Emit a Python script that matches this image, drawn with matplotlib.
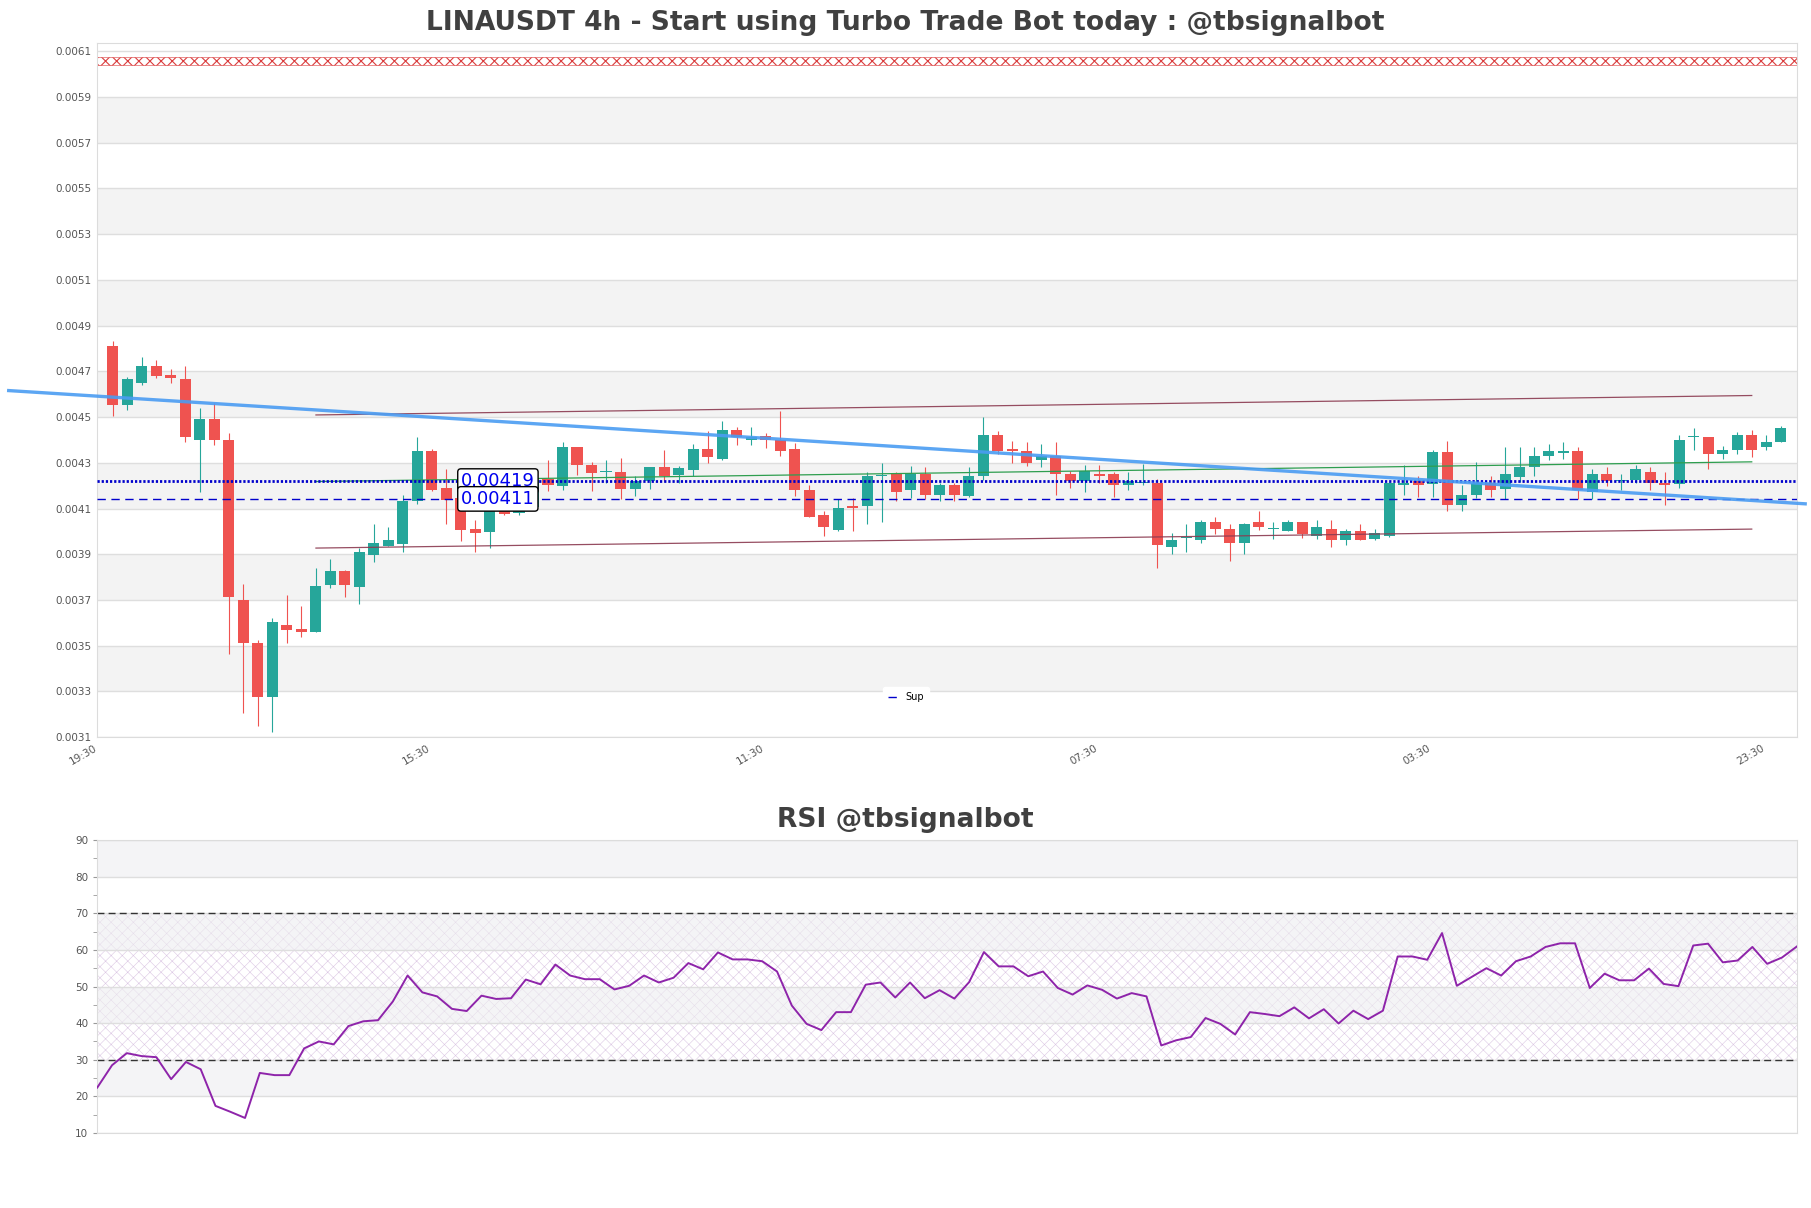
import numpy as np
import matplotlib
matplotlib.use('Agg')
import matplotlib.pyplot as plt

# ---------------- data ----------------
# prices are in units of 1e-5 USDT (481.2 -> 0.004812)
SCALE = 1e-5

opens = [481.2, 455.1, 464.8, 472.1, 468.3, 466.4, 439.8, 449.3, 440.1, 370.1,
         351.4, 327.8, 359.1, 357.2, 355.8, 376.6, 382.5, 375.9, 389.8, 393.7,
         394.6, 413.1, 435.3, 418.9, 414.6, 401.1, 399.9, 410.6, 408.0, 410.5,
         423.0, 420.0, 437.0, 429.2, 426.0, 426.1, 418.7, 421.9, 428.3, 424.8,
         427.0, 436.2, 431.8, 444.2, 440.1, 441.6, 440.1, 436.2, 418.2, 407.3,
         400.7, 411.2, 410.9, 424.1, 425.1, 417.9, 425.1, 415.8, 420.3, 415.6,
         424.1, 442.3, 436.2, 435.3, 431.1, 433.1, 425.2, 421.9, 425.1, 425.1,
         420.1, 421.1, 421.1, 393.0, 397.0, 396.1, 404.1, 401.0, 394.9, 404.1,
         401.1, 400.0, 404.1, 397.8, 401.2, 396.1, 400.0, 396.8, 397.8, 420.1,
         422.2, 420.8, 434.6, 411.7, 415.8, 421.1, 418.7, 423.9, 428.0, 432.8,
         434.1, 435.3, 417.1, 425.1, 422.0, 422.6, 426.1, 421.1, 420.9, 441.1,
         441.4, 434.0, 435.7, 442.3, 436.8, 439.0]
highs = [483.4, 467.4, 476.4, 475.1, 471.2, 472.1, 454.0, 456.2, 443.0, 376.9,
         352.6, 362.3, 372.3, 367.4, 384.2, 388.0, 383.2, 392.7, 403.3, 401.9,
         416.0, 441.3, 436.2, 427.4, 414.6, 405.1, 417.0, 412.0, 411.5, 423.5,
         431.4, 439.2, 437.0, 430.2, 431.4, 432.2, 424.4, 428.3, 435.4, 428.4,
         438.4, 444.0, 448.3, 445.5, 445.5, 443.0, 452.5, 438.5, 420.3, 409.0,
         414.1, 414.6, 425.8, 430.0, 426.1, 428.4, 428.1, 421.2, 421.2, 428.1,
         450.0, 444.0, 439.4, 439.2, 438.4, 439.2, 426.3, 429.2, 429.0, 426.1,
         425.9, 429.6, 422.9, 399.3, 403.2, 405.1, 406.3, 403.4, 403.6, 409.0,
         404.0, 405.1, 404.1, 405.1, 405.1, 401.0, 403.4, 401.0, 421.8, 429.2,
         424.4, 435.4, 439.4, 420.4, 430.2, 424.1, 436.9, 436.9, 436.9, 438.4,
         439.2, 436.9, 427.3, 428.1, 425.2, 429.2, 428.1, 426.1, 442.3, 445.2,
         441.4, 437.2, 443.3, 444.2, 442.3, 446.2]
lows = [450.6, 452.9, 463.9, 466.9, 464.8, 438.9, 417.0, 437.9, 346.3, 320.8,
        315.1, 312.5, 351.1, 354.0, 355.8, 375.2, 371.1, 368.2, 386.8, 393.4,
        391.2, 411.9, 417.5, 403.2, 396.0, 391.2, 392.7, 407.3, 407.0, 409.5,
        417.8, 417.9, 424.8, 417.8, 421.2, 414.1, 415.6, 418.7, 422.2, 421.2,
        424.1, 429.8, 431.1, 437.9, 437.9, 436.5, 432.8, 415.6, 406.3, 397.8,
        400.0, 400.0, 403.1, 403.9, 413.1, 414.6, 414.3, 413.3, 413.3, 415.0,
        422.6, 434.0, 429.9, 428.7, 428.0, 415.8, 419.0, 417.1, 421.2, 415.0,
        417.9, 420.4, 383.8, 390.1, 390.8, 394.9, 399.0, 386.9, 390.1, 400.7,
        396.8, 400.0, 396.9, 396.8, 393.0, 393.9, 396.1, 396.1, 397.5, 415.8,
        414.9, 414.9, 408.8, 408.8, 414.6, 415.0, 414.3, 421.4, 424.1, 431.1,
        431.8, 414.3, 414.3, 420.0, 417.9, 421.1, 417.9, 411.7, 419.0, 435.7,
        427.3, 431.8, 434.0, 432.5, 435.7, 439.0]
closes = [455.1, 466.4, 472.1, 467.8, 466.9, 441.1, 449.3, 439.8, 371.1, 351.1,
          327.8, 360.4, 357.0, 355.8, 376.2, 382.5, 376.6, 391.2, 395.0, 396.3,
          413.4, 435.3, 417.9, 413.8, 400.7, 399.1, 411.5, 407.7, 409.6, 422.5,
          420.1, 437.0, 428.9, 425.7, 426.3, 418.7, 422.2, 428.3, 424.1, 427.6,
          436.2, 432.7, 444.2, 441.3, 441.1, 439.8, 435.0, 417.9, 406.3, 401.8,
          410.2, 410.1, 424.4, 424.8, 417.1, 425.1, 415.8, 420.3, 415.8, 424.4,
          442.3, 435.0, 435.0, 429.8, 433.1, 424.9, 421.9, 426.3, 424.1, 420.1,
          421.9, 421.6, 393.9, 396.4, 397.3, 404.1, 401.0, 394.9, 403.2, 401.7,
          401.4, 404.1, 399.0, 401.9, 396.1, 400.0, 396.1, 399.3, 421.1, 421.1,
          420.1, 434.6, 411.7, 416.0, 421.1, 417.9, 425.1, 428.3, 433.1, 435.3,
          435.3, 418.2, 425.1, 421.9, 422.3, 427.3, 421.1, 420.1, 440.1, 441.4,
          434.0, 435.4, 442.3, 435.7, 439.2, 445.2]

rsi = [22.4, 28.5, 31.8, 31.0, 30.7, 24.7, 29.4, 27.4, 17.4, 15.8,
       14.1, 26.4, 25.8, 25.8, 33.1, 35.0, 34.2, 39.2, 40.5, 40.8,
       45.9, 53.0, 48.4, 47.3, 43.9, 43.3, 47.5, 46.6, 46.8, 51.9,
       50.6, 56.0, 53.0, 52.0, 52.0, 49.2, 50.2, 53.0, 51.1, 52.4,
       56.4, 54.7, 59.3, 57.4, 57.4, 56.9, 54.1, 44.8, 39.8, 38.1,
       43.0, 43.0, 50.5, 51.1, 47.0, 51.1, 46.8, 49.0, 46.7, 51.2,
       59.4, 55.5, 55.5, 52.8, 54.1, 49.6, 47.8, 50.3, 49.1, 46.7,
       48.2, 47.3, 33.9, 35.3, 36.2, 41.4, 39.8, 36.9, 43.0, 42.5,
       41.9, 44.3, 41.3, 43.8, 39.9, 43.4, 41.1, 43.4, 58.2, 58.2,
       57.3, 64.6, 50.2, 52.6, 55.0, 53.0, 56.9, 58.2, 60.8, 61.8,
       61.8, 49.6, 53.5, 51.7, 51.7, 54.9, 50.7, 50.1, 61.2, 61.7,
       56.6, 57.1, 60.8, 56.2, 57.9, 60.9]

tick_pos = [-1, 22, 45, 68, 91, 114]
tick_labels = ['19:30', '15:30', '11:30', '07:30', '03:30', '23:30']

# drawn lines (candle index, price)
trend_x = [-7.3, 116.8]
trend_y = [461.6, 412.0]
chan_x = [14, 113]
chan_top = [450.9, 459.4]
chan_bot = [392.7, 401.0]
mid_y = [421.8, 430.4]
sup_dot = 422.0
sup_dash = 414.2
sup_texts = ['0.00419', '0.00411']
sell_band = [603.8, 607.5]

GREEN = '#26a69a'
RED = '#ef5350'
TXT = '#404040'

o = np.array(opens) * SCALE
h = np.array(highs) * SCALE
l = np.array(lows) * SCALE
c = np.array(closes) * SCALE
x = np.arange(len(o))

fig = plt.figure(figsize=(18.11, 12.08), dpi=100)
ax = fig.add_axes([0.0537, 0.3897, 0.9384, 0.5745])
ax_r = fig.add_axes([0.0537, 0.0621, 0.9384, 0.2425])

# ---------------- price panel ----------------
ax.set_xlim(-1.08, 116.1)
ax.set_ylim(0.0031, 0.006134)
yt = np.round(np.arange(0.0031, 0.00611, 0.0002), 4)
for lo in np.arange(0.0033, 0.0060, 0.0004):
    ax.axhspan(lo, lo + 0.0002, color='#f3f3f3', zorder=0, lw=0)
ax.set_yticks(yt)
ax.set_yticklabels(['%.4f' % v for v in yt])
ax.grid(axis='y', color='#dedede', lw=1, zorder=0.5)
ax.set_axisbelow(True)
ax.set_xticks(tick_pos)
ax.set_xticklabels(tick_labels, rotation=30, ha='right')
ax.tick_params(axis='both', length=0, labelsize=7.5, labelcolor='#555555', pad=4)
for s in ax.spines.values():
    s.set_color('#dcdcdc')

# sell markers band at the top
with plt.rc_context({'hatch.linewidth': 0.8}):
    ax.fill_between([-1.08, 116.1], sell_band[0] * SCALE, sell_band[1] * SCALE,
                    facecolor='none', edgecolor='#d62728', hatch='xxx', lw=0.4,
                    alpha=0.9, zorder=2)

# candles
up = c >= o
col = np.where(up, GREEN, RED)
ax.vlines(x, l, h, color=col, lw=0.8, zorder=3)
body = np.maximum(np.abs(c - o), 0.0000045)
ax.bar(x, body, 0.76, bottom=np.minimum(o, c), color=col, lw=0, zorder=4)

# support / trend lines
ax.plot(chan_x, np.array(mid_y) * SCALE, color='#2e9e4f', lw=0.9, zorder=4.5)
ax.axhline(sup_dot * SCALE, color='#0000cc', lw=2.0, ls=(0, (0.8, 0.7)), zorder=5)
ax.axhline(sup_dash * SCALE, color='#0000cc', lw=1.0, ls=(0, (6, 4)), zorder=5, label='Sup')
ax.plot(chan_x, np.array(chan_top) * SCALE, color='#8b3a50', lw=0.9, alpha=0.9, zorder=5)
ax.plot(chan_x, np.array(chan_bot) * SCALE, color='#8b3a50', lw=0.9, alpha=0.9, zorder=5)
ax.plot(trend_x, np.array(trend_y) * SCALE, color='#4a9cf2', lw=2.4, alpha=0.9,
        zorder=6, clip_on=False, solid_capstyle='butt')

for val, txt in zip([sup_dot, sup_dash], sup_texts):
    ax.text(24.0, val * SCALE, txt, color='#0000ee', fontsize=13, ha='left', va='center',
            zorder=7, bbox=dict(boxstyle='round,pad=0.18', fc='white', ec='black', lw=1))

leg = ax.legend(loc='center', bbox_to_anchor=(0.476, 0.058), fontsize=7,
                handlelength=1.0, borderpad=0.5, framealpha=1)
leg.get_frame().set_edgecolor('white')

# ---------------- RSI panel ----------------
xr = np.arange(len(rsi))
ax_r.set_xlim(0, len(rsi) - 1)
ax_r.set_ylim(10, 90)
with plt.rc_context({'hatch.linewidth': 0.4}):
    ax_r.fill_between([0, len(rsi) - 1], 30, 70, facecolor='white', edgecolor='#dcc8e4',
                      hatch='xxx', lw=0, zorder=0.2)
for lo in (20, 40, 60, 80):
    ax_r.axhspan(lo, lo + 10, color='#eeeef0', alpha=0.6, zorder=0.3, lw=0)
ax_r.axhline(70, color='#333333', lw=1, ls=(0, (5, 3)), zorder=2)
ax_r.axhline(30, color='#333333', lw=1, ls=(0, (5, 3)), zorder=2)
ax_r.plot(xr, rsi, color='#8e24aa', lw=1.4, zorder=3)
ax_r.set_yticks(range(10, 91, 10))
ax_r.set_yticks(range(15, 90, 10), minor=True)
ax_r.grid(axis='y', which='major', color='#dedede', lw=1, zorder=0.5)
ax_r.set_axisbelow(True)
ax_r.set_xticks([])
ax_r.tick_params(axis='y', which='both', length=3, color='#999999', labelsize=7.5,
                 labelcolor='#555555')
for s in ax_r.spines.values():
    s.set_color('#dcdcdc')

fig.text(0.5, 1 - 23 / 1208, 'LINAUSDT 4h - Start using Turbo Trade Bot today : @tbsignalbot',
         ha='center', va='center', fontsize=19.1, fontweight='bold', color=TXT)
fig.text(0.5, 1 - 820 / 1208, 'RSI @tbsignalbot', ha='center', va='center',
         fontsize=19.1, fontweight='bold', color=TXT)

fig.savefig('out.png', dpi=100, facecolor='white')
